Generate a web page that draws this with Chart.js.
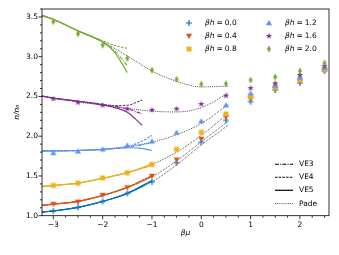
<!DOCTYPE html>
<html><head><meta charset="utf-8">
<script src="https://cdn.jsdelivr.net/npm/chart.js@4"></script>
<style>html,body{margin:0;padding:0;background:#fff}canvas{display:block}</style>
</head><body>
<canvas id="c" width="339" height="255" style="width:339px;height:255px"></canvas>
<script>
// ---------- data ----------
const betaH = ['0.0', '0.4', '0.8', '1.2', '1.6', '2.0'];
const xTicks = [-3, -2, -1, 0, 1, 2];
const yTicks = [1.0, 1.5, 2.0, 2.5, 3.0, 3.5];
const lineLabels = ['VE3', 'VE4', 'VE5', 'Pade'];

// simulation points (βμ, n/n0)
const muPts = [-3, -2.5, -2, -1.5, -1, -0.5, 0, 0.5, 1, 1.5, 2, 2.5];
const pts00 = [1.06, 1.105, 1.18, 1.28, 1.425, 1.665, 1.925, 2.20, 2.435, 2.58, 2.67, 2.82];
const pts04 = [1.146, 1.175, 1.26, 1.355, 1.50, 1.705, 1.965, 2.24, 2.47, 2.595, 2.69, 2.83];
const pts08 = [1.38, 1.41, 1.475, 1.54, 1.645, 1.835, 2.05, 2.28, 2.50, 2.61, 2.705, 2.84];
const pts12 = [1.79, 1.81, 1.835, 1.885, 1.935, 2.045, 2.19, 2.39, 2.54, 2.64, 2.74, 2.86];
const pts16 = [2.47, 2.425, 2.39, 2.345, 2.33, 2.345, 2.405, 2.51, 2.605, 2.665, 2.77, 2.885];
const pts20 = [3.44, 3.29, 3.145, 2.98, 2.83, 2.715, 2.655, 2.66, 2.705, 2.745, 2.82, 2.92];

// virial expansion curves
const veX00 = [-3.23, -3, -2.5, -2, -1.5, -1];
const ve3_00 = [1.045, 1.06, 1.105, 1.18, 1.28, 1.435];
const ve4_00 = [1.045, 1.06, 1.105, 1.18, 1.285, 1.445];
const ve5_00 = [1.045, 1.06, 1.105, 1.18, 1.28, 1.44];
const veX04 = [-3.23, -3, -2.5, -2, -1.5, -1];
const ve3_04 = [1.13, 1.145, 1.18, 1.255, 1.355, 1.495];
const ve4_04 = [1.13, 1.145, 1.18, 1.255, 1.36, 1.505];
const ve5_04 = [1.13, 1.145, 1.18, 1.255, 1.355, 1.50];
const veX08 = [-3.23, -3, -2.5, -2, -1.5, -1.25, -1];
const ve3_08 = [1.365, 1.38, 1.41, 1.47, 1.54, 1.585, 1.63];
const ve4_08 = [1.365, 1.38, 1.41, 1.47, 1.545, 1.595, 1.655];
const ve5_08 = [1.365, 1.38, 1.41, 1.47, 1.54, 1.59, 1.645];
const veX12 = [-3.23, -3, -2.5, -2, -1.5, -1.25, -1];
const ve3_12 = [1.815, 1.815, 1.82, 1.835, 1.86, 1.885, 1.92];
const ve4_12 = [1.815, 1.815, 1.82, 1.835, 1.87, 1.925, 2.01];
const ve5_12 = [1.815, 1.815, 1.82, 1.835, 1.855, 1.85, 1.82];
const veX16 = [-3.23, -3, -2.5, -2, -1.75, -1.5, -1.2];
const ve3_16 = [2.505, 2.48, 2.44, 2.40, 2.375, 2.345, 2.28];
const ve4_16 = [2.505, 2.48, 2.44, 2.40, 2.385, 2.39, 2.455];
const ve5_16 = [2.505, 2.48, 2.44, 2.395, 2.36, 2.30, 2.14];
const veX20 = [-3.23, -3, -2.5, -2, -1.75, -1.5];
const ve3_20 = [3.52, 3.47, 3.325, 3.19, 3.07, 2.89];
const ve4_20 = [3.52, 3.47, 3.325, 3.20, 3.14, 3.105];
const ve5_20 = [3.52, 3.47, 3.325, 3.185, 3.05, 2.80];

// Pade curves
const padeX = [-3.23, -3, -2.5, -2, -1.5, -1, -0.5, 0, 0.55];
const pade00 = [1.045, 1.06, 1.105, 1.18, 1.28, 1.425, 1.64, 1.89, 2.14];
const pade04 = [1.13, 1.145, 1.18, 1.255, 1.355, 1.49, 1.69, 1.93, 2.19];
const pade08 = [1.37, 1.38, 1.41, 1.47, 1.54, 1.645, 1.80, 2.01, 2.29];
const pade12 = [1.81, 1.815, 1.82, 1.835, 1.87, 1.925, 2.02, 2.16, 2.40];
const pade16 = [2.505, 2.475, 2.43, 2.39, 2.35, 2.315, 2.305, 2.36, 2.54];
const pade20 = [3.51, 3.47, 3.325, 3.185, 3.01, 2.82, 2.69, 2.62, 2.63];

// ---------- styling ----------
const FONT = 'DejaVu Sans';
const colors = ['#0072BD', '#D95319', '#EDB120', '#5a96f0', '#7E2F8E', '#77AC30'];
const kinds = ['plus', 'tridown', 'square', 'triup', 'star', 'diamond'];
const PADE_COLOR = '#333333';
const DASH = { ve3: [4, 1.2, 1, 1.2], ve4: [2.5, 1.2], ve5: [], pade: [0.8, 1.1] };

function makeMarker(kind, color) {
  const S = 10, c = S / 2;
  const cv = document.createElement('canvas');
  cv.width = S; cv.height = S;
  const g = cv.getContext('2d');
  g.fillStyle = color; g.strokeStyle = color; g.lineWidth = 1.2;
  g.beginPath();
  if (kind === 'plus') {
    g.moveTo(c - 3, c); g.lineTo(c + 3, c); g.moveTo(c, c - 3); g.lineTo(c, c + 3); g.stroke(); return cv;
  } else if (kind === 'tridown') {
    g.moveTo(c, c + 3); g.lineTo(c - 3.1, c - 2.3); g.lineTo(c + 3.1, c - 2.3);
  } else if (kind === 'triup') {
    g.moveTo(c, c - 3); g.lineTo(c - 3.1, c + 2.3); g.lineTo(c + 3.1, c + 2.3);
  } else if (kind === 'square') {
    g.rect(c - 2.5, c - 2.5, 5, 5);
  } else if (kind === 'star') {
    for (let k = 0; k < 10; k++) {
      const r = k % 2 ? 1.35 : 3.3;
      const a = -Math.PI / 2 + k * Math.PI / 5;
      const px = c + r * Math.cos(a), py = c + r * Math.sin(a);
      k ? g.lineTo(px, py) : g.moveTo(px, py);
    }
  } else if (kind === 'diamond') {
    g.moveTo(c, c - 3.4); g.lineTo(c + 2, c); g.lineTo(c, c + 3.4); g.lineTo(c - 2, c);
  }
  g.closePath(); g.fill();
  return cv;
}
const markers = kinds.map((k, i) => makeMarker(k, colors[i]));

const toXY = (xs, ys) => xs.map((x, i) => ({ x: x, y: ys[i] }));

const ptsAll = [pts00, pts04, pts08, pts12, pts16, pts20];
const veXAll = [veX00, veX04, veX08, veX12, veX16, veX20];
const ve3All = [ve3_00, ve3_04, ve3_08, ve3_12, ve3_16, ve3_20];
const ve4All = [ve4_00, ve4_04, ve4_08, ve4_12, ve4_16, ve4_20];
const ve5All = [ve5_00, ve5_04, ve5_08, ve5_12, ve5_16, ve5_20];
const padeAll = [pade00, pade04, pade08, pade12, pade16, pade20];

const datasets = [];
// scatter points (first => drawn on top)
for (let i = 5; i >= 0; i--) {
  datasets.push({
    label: 'βh = ' + betaH[i], data: toXY(muPts, ptsAll[i]),
    pointStyle: markers[i], pointRadius: 4, pointHoverRadius: 4, showLine: false
  });
}
function lineDs(xs, ys, color, dash, width) {
  return {
    data: toXY(xs, ys), showLine: true, pointRadius: 0, pointHoverRadius: 0,
    borderColor: color, borderWidth: width, borderDash: dash,
    cubicInterpolationMode: 'monotone', fill: false
  };
}
for (let i = 0; i < 6; i++) {
  datasets.push(lineDs(veXAll[i], ve3All[i], colors[i], DASH.ve3, 1.1));
  datasets.push(lineDs(veXAll[i], ve4All[i], colors[i], DASH.ve4, 1.1));
  datasets.push(lineDs(veXAll[i], ve5All[i], colors[i], DASH.ve5, 1.2));
}
for (let i = 0; i < 6; i++) {
  datasets.push(lineDs(padeX, padeAll[i], PADE_COLOR, DASH.pade, 1));
}

const fmt = v => (v < 0 ? '\u2212' + Math.abs(v) : String(v));

const framePlugin = {
  id: 'frame',
  afterDraw(chart) {
    const { ctx, chartArea: a, scales: { x, y } } = chart;
    ctx.save();
    ctx.strokeStyle = '#000'; ctx.lineWidth = 0.8;
    ctx.strokeRect(a.left, a.top, a.right - a.left, a.bottom - a.top);
    ctx.beginPath();
    for (let k = -13; k <= 10; k++) {
      const v = k / 4;
      const px = x.getPixelForValue(v);
      if (px < a.left - 0.1 || px > a.right + 0.1) continue;
      const len = (k % 4 === 0) ? 3.5 : 2;
      ctx.moveTo(px, a.bottom); ctx.lineTo(px, a.bottom + len);
    }
    for (let k = 10; k <= 36; k++) {
      const v = k / 10;
      const py = y.getPixelForValue(v);
      if (py < a.top - 0.1) continue;
      const len = (k % 5 === 0) ? 3.5 : 2;
      ctx.moveTo(a.left, py); ctx.lineTo(a.left - len, py);
    }
    ctx.stroke();

    // legend 1: markers
    const colX = [189.3, 268.7], txtX = [205, 285], rowY = [22.7, 35.6, 48.8];
    ctx.textBaseline = 'middle'; ctx.fillStyle = '#000';
    for (let i = 0; i < 6; i++) {
      const col = Math.floor(i / 3), row = i % 3;
      const m = markers[i];
      ctx.drawImage(m, Math.round(colX[col] - m.width / 2), Math.round(rowY[row] - m.height / 2));
      let tx = txtX[col];
      ctx.font = 'italic 7.5px "' + FONT + '"';
      ctx.fillText('βh', tx, rowY[row]);
      tx += ctx.measureText('βh').width + 2;
      ctx.font = '7.5px "' + FONT + '"';
      ctx.fillText('=', tx, rowY[row]);
      tx += ctx.measureText('=').width + 2;
      ctx.fillText(betaH[i], tx, rowY[row]);
    }
    // legend 2: line styles
    const ly = [164.3, 177.3, 190.3, 203.6];
    const dashes = [DASH.ve3, DASH.ve4, DASH.ve5, DASH.pade];
    const widths = [1.1, 1.1, 1.2, 1];
    for (let i = 0; i < 4; i++) {
      ctx.beginPath();
      ctx.setLineDash(dashes[i]); ctx.lineWidth = widths[i];
      ctx.strokeStyle = i === 3 ? PADE_COLOR : '#000';
      ctx.moveTo(275, ly[i]); ctx.lineTo(293, ly[i]); ctx.stroke();
      ctx.setLineDash([]);
      ctx.font = '7.5px "' + FONT + '"';
      ctx.fillText(lineLabels[i], 299, ly[i]);
    }
    ctx.restore();
  }
};

new Chart(document.getElementById('c'), {
  type: 'scatter',
  data: { datasets: datasets },
  options: {
    responsive: false, animation: false, devicePixelRatio: 1,
    layout: { padding: { left: 0, top: 9, right: 10, bottom: 0 } },
    plugins: { legend: { display: false }, tooltip: { enabled: false } },
    scales: {
      x: {
        type: 'linear', min: -3.23, max: 2.59,
        grid: { display: false, drawTicks: true, tickLength: 3.5 },
        border: { display: false },
        afterBuildTicks: s => { s.ticks = xTicks.map(v => ({ value: v })); },
        afterFit: s => { s.height = 39.3; },
        ticks: { callback: v => fmt(v), padding: 0.9, color: '#000', font: { family: FONT, size: 7.5 }, maxRotation: 0, autoSkip: false },
        title: { display: true, text: 'βμ', color: '#000', font: { family: FONT, size: 7.5, style: 'italic' }, padding: { top: 0, bottom: 17.8 } }
      },
      y: {
        type: 'linear', min: 1.0, max: 3.6,
        grid: { display: false, drawTicks: true, tickLength: 3.5 },
        border: { display: false },
        afterBuildTicks: s => { s.ticks = yTicks.map(v => ({ value: v })); },
        afterFit: s => { s.width = 42; },
        ticks: { callback: v => Number(v).toFixed(1), padding: 0.5, color: '#000', font: { family: FONT, size: 7.5 }, autoSkip: false },
        title: { display: true, text: 'n/n₀', color: '#000', font: { family: FONT, size: 7.5, style: 'italic' }, padding: { top: 12.5, bottom: 0 } }
      }
    }
  },
  plugins: [framePlugin]
});
</script>
</body></html>
